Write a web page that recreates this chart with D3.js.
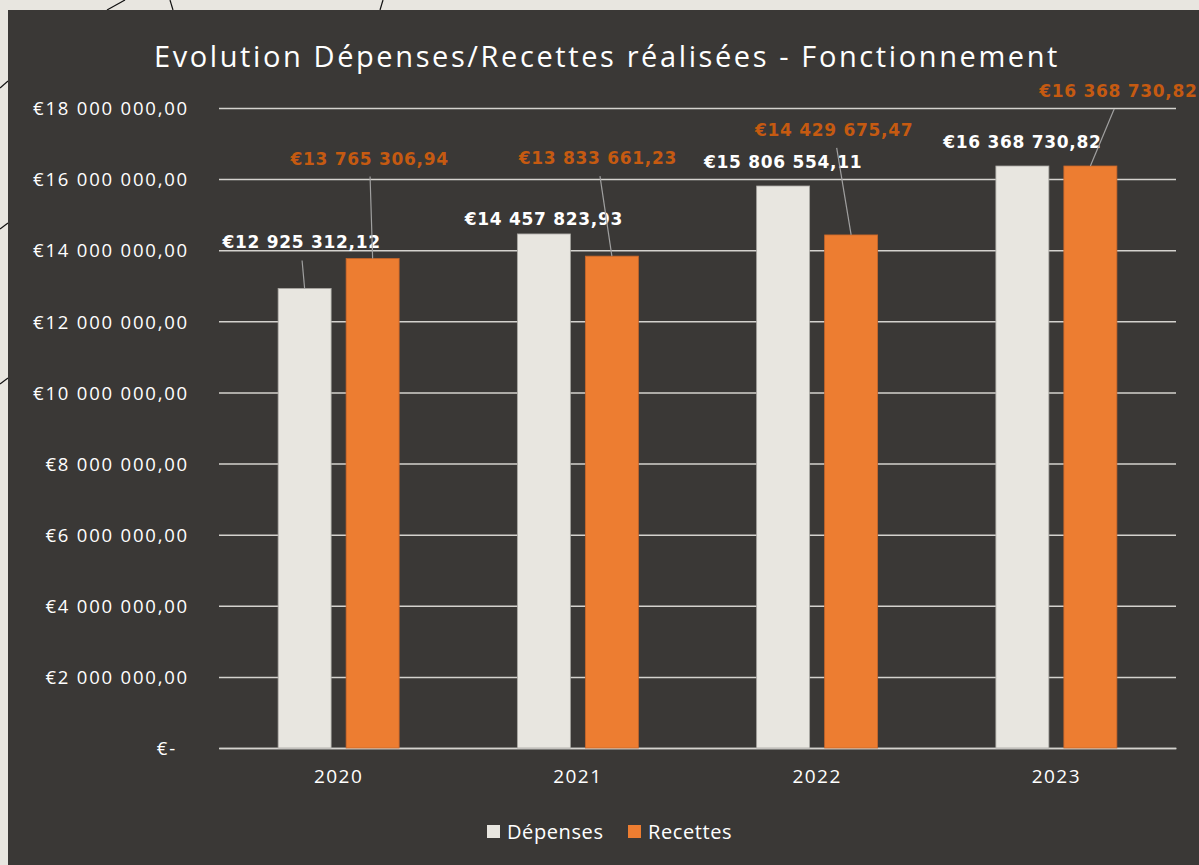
<!DOCTYPE html>
<html>
  <script src="https://d3js.org/d3.v7.min.js" type="text/JavaScript"></script>
  <style>
    body { margin: 0; background: #e8e6e0; }
    text { font-family: "Open Sans", "Noto Sans", sans-serif; }
  </style>
  <body>
    <svg></svg>
    <script>
var years = ['2020', '2021', '2022', '2023'];
var depenses = [12925312.12, 14457823.93, 15806554.11, 16368730.82];
var recettes = [13765306.94, 13833661.23, 14429675.47, 16368730.82];
var series = ['Dépenses', 'Recettes'];
var yTicks = [0, 2e6, 4e6, 6e6, 8e6, 10e6, 12e6, 14e6, 16e6, 18e6];
// label offsets (dx, dy from bar top centre)
var depLabelPos = [[-3, -40], [0, -9], [0, -18], [0, -18]];
var recLabelPos = [[-3, -94], [-14, -92], [-17, -99], [28, -69]];

var W = 1199, H = 865;
var svg = d3.select('svg').attr('width', W).attr('height', H);

// decorative lines on the page background
var deco = [[107,10,125,0],[170,0,173,10],[383,0,380,10],[0,88,8,81],[0,229,8,223],[0,384,8,378]];
svg.selectAll('line.deco').data(deco).enter().append('line')
  .attr('x1', d => d[0]).attr('y1', d => d[1]).attr('x2', d => d[2]).attr('y2', d => d[3])
  .style('stroke', '#111').style('stroke-width', 1.2);

svg.append('rect').attr('x', 8).attr('y', 10).attr('width', W - 8).attr('height', H - 10)
  .style('fill', '#3a3836');

svg.append('text').text('Evolution Dépenses/Recettes réalisées - Fonctionnement')
  .attr('x', 607).attr('y', 67).attr('text-anchor', 'middle')
  .style('fill', '#ffffff').style('font-size', '29px').style('letter-spacing', '2.6px');

var x = d3.scaleBand().domain(years).range([219, 1176]);
var y = d3.scaleLinear().domain([0, 18e6]).range([748, 108]);

var fmt = v => {
  var s = d3.format(',.2f')(v);
  return '€' + s.replace(/,/g, ' ').replace('.', ',');
};

var yAxis = d3.axisLeft(y).tickValues(yTicks).tickSize(-(1176 - 219)).tickPadding(30)
  .tickFormat(v => v === 0 ? '€-' : fmt(v));
var gy = svg.append('g').attr('transform', 'translate(219,0)').call(yAxis);
gy.select('.domain').remove();
gy.selectAll('line').style('stroke', '#d4d2ce').style('stroke-width', 1.5);
gy.selectAll('text').style('fill', '#ffffff').style('font-size', '18.5px')
  .style('letter-spacing', '1.8px').attr('dy', '0.36em');
gy.selectAll('text').filter(d => d === 0).attr('x', -42);

var xAxis = d3.axisBottom(x).tickSize(0).tickPadding(22);
var gx = svg.append('g').attr('transform', 'translate(0,748)').call(xAxis);
gx.select('.domain').style('stroke', '#d4d2ce').style('stroke-width', 1.5);
gx.selectAll('text').style('fill', '#ffffff').style('font-size', '19px')
  .style('letter-spacing', '1.4px');

var barW = 53, gap = 15;
var xs = d3.scaleOrdinal().domain(series).range([-gap / 2 - barW, gap / 2]);
var colors = d3.scaleOrdinal().domain(series).range(['#e8e6e0', '#ed7d31']);
var labelColors = d3.scaleOrdinal().domain(series).range(['#ffffff', '#c55a11']);

var rows = [];
years.forEach((yr, i) => {
  rows.push({ year: yr, s: 'Dépenses', v: depenses[i], pos: depLabelPos[i] });
  rows.push({ year: yr, s: 'Recettes', v: recettes[i], pos: recLabelPos[i] });
});

var g = svg.selectAll('g.bar').data(rows).enter().append('g').attr('class', 'bar');

g.append('rect')
  .attr('x', d => x(d.year) + x.bandwidth() / 2 + xs(d.s))
  .attr('y', d => y(d.v))
  .attr('width', barW)
  .attr('height', d => 748 - y(d.v))
  .style('fill', d => colors(d.s))
  .style('stroke', d => d.s === 'Dépenses' ? '#a8a6a2' : '#c8662a')
  .style('stroke-width', 0.8);

// leader lines for labels sitting away from their bar
g.filter(d => d.pos[1] < -30).append('line')
  .attr('x1', d => x(d.year) + x.bandwidth() / 2 + xs(d.s) + barW / 2 + d.pos[0] * 0.85)
  .attr('y1', d => y(d.v) + d.pos[1] + 12)
  .attr('x2', d => x(d.year) + x.bandwidth() / 2 + xs(d.s) + barW / 2)
  .attr('y2', d => y(d.v))
  .style('stroke', '#a0a0a0').style('stroke-width', 1.2);

g.append('text')
  .attr('x', d => x(d.year) + x.bandwidth() / 2 + xs(d.s) + barW / 2 + d.pos[0])
  .attr('y', d => y(d.v) + d.pos[1])
  .attr('text-anchor', 'middle')
  .text(d => fmt(d.v))
  .style('fill', d => labelColors(d.s))
  .style('font-family', '"DejaVu Sans", sans-serif')
  .style('font-size', '17px').style('font-weight', 'bold').style('letter-spacing', '0.7px');

// legend
var leg = svg.selectAll('g.leg').data(series).enter().append('g').attr('class', 'leg')
  .attr('transform', (d, i) => `translate(${i ? 628 : 487},825)`);
leg.append('rect').attr('width', 13).attr('height', 13).style('fill', d => colors(d));
leg.append('text').text(d => d).attr('x', 20).attr('y', 14)
  .style('fill', '#ffffff').style('font-size', '20px').style('letter-spacing', '0.6px');
    </script>
  </body>
</html>
